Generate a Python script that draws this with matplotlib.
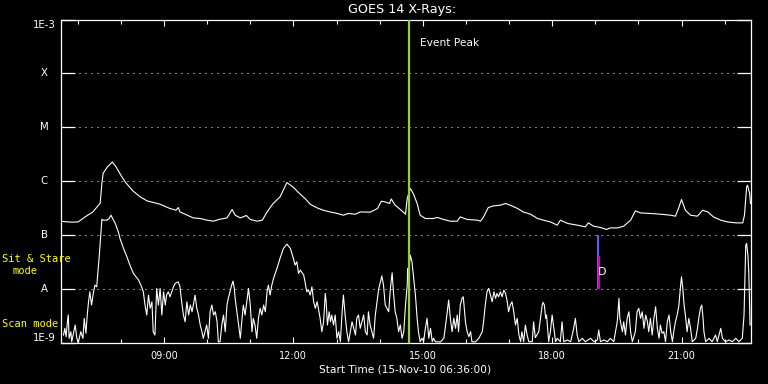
import numpy as np
import matplotlib
matplotlib.use("Agg")
import matplotlib.pyplot as plt
from matplotlib.ticker import FixedLocator, NullLocator
from matplotlib.transforms import blended_transform_factory

# ---------------- data (hour of day, log10 flux W/m^2) ----------------
long_hours = [6.61,6.70,6.87,7.01,7.17,7.35,7.52,7.56,7.59,7.68,
              7.80,7.89,8.00,8.10,8.28,8.45,8.61,8.91,9.14,9.28,
              9.33,9.37,9.54,9.68,9.84,10.00,10.14,10.30,10.46,10.58,
              10.65,10.77,10.91,11.00,11.16,11.28,11.39,11.53,11.69,11.85,
              11.99,12.16,12.27,12.39,12.55,12.69,12.85,13.02,13.16,13.27,
              13.44,13.55,13.78,13.95,14.04,14.13,14.23,14.27,14.36,14.48,
              14.60,14.64,14.71,14.78,14.87,14.94,15.06,15.24,15.34,15.48,
              15.64,15.80,15.87,16.03,16.27,16.34,16.41,16.52,16.64,16.80,
              16.92,17.03,17.20,17.33,17.50,17.66,17.80,17.96,18.12,18.19,
              18.36,18.59,18.77,18.84,18.96,19.12,19.26,19.35,19.52,19.66,
              19.82,19.93,20.05,20.28,20.51,20.75,20.86,20.93,21.00,21.09,
              21.21,21.37,21.49,21.61,21.74,21.91,22.07,22.26,22.42,22.46,
              22.51,22.53,22.58,22.60]
long_logflux = [-6.741,-6.750,-6.759,-6.754,-6.661,-6.569,-6.407,-6.037,-5.852,-5.741,
                -5.643,-5.735,-5.889,-6.013,-6.180,-6.291,-6.365,-6.426,-6.506,-6.537,
                -6.487,-6.569,-6.630,-6.680,-6.691,-6.722,-6.741,-6.704,-6.680,-6.524,
                -6.630,-6.680,-6.635,-6.709,-6.741,-6.722,-6.569,-6.413,-6.291,-6.024,
                -6.106,-6.241,-6.320,-6.426,-6.494,-6.537,-6.569,-6.598,-6.630,-6.598,
                -6.611,-6.569,-6.574,-6.506,-6.370,-6.383,-6.413,-6.328,-6.444,-6.524,
                -6.611,-6.320,-6.135,-6.228,-6.413,-6.630,-6.691,-6.691,-6.672,-6.709,
                -6.741,-6.741,-6.661,-6.709,-6.722,-6.741,-6.661,-6.487,-6.457,-6.444,
                -6.413,-6.444,-6.506,-6.569,-6.611,-6.691,-6.722,-6.754,-6.815,-6.722,
                -6.783,-6.815,-6.846,-6.772,-6.833,-6.857,-6.894,-6.865,-6.865,-6.833,
                -6.722,-6.550,-6.587,-6.598,-6.611,-6.630,-6.648,-6.506,-6.339,-6.537,
                -6.630,-6.648,-6.537,-6.569,-6.661,-6.722,-6.754,-6.772,-6.772,-6.630,
                -6.106,-6.074,-6.228,-6.413]

short_hours = [6.67,6.70,6.73,6.76,6.78,6.80,6.84,6.86,6.94,6.98,
               7.01,7.07,7.12,7.15,7.19,7.22,7.25,7.28,7.32,7.36,
               7.40,7.44,7.50,7.56,7.59,7.67,7.73,7.77,7.81,7.87,
               7.94,7.98,8.06,8.14,8.21,8.29,8.41,8.48,8.52,8.56,
               8.60,8.64,8.68,8.72,8.75,8.79,8.83,8.87,8.91,8.95,
               8.99,9.03,9.06,9.10,9.14,9.22,9.26,9.33,9.37,9.41,
               9.45,9.49,9.53,9.57,9.61,9.65,9.68,9.72,9.76,9.80,
               9.84,9.88,9.91,9.99,10.03,10.07,10.11,10.15,10.19,10.23,
               10.26,10.30,10.34,10.38,10.42,10.46,10.49,10.53,10.57,10.60,
               10.63,10.65,10.69,10.73,10.77,10.81,10.84,10.88,10.92,10.96,
               11.00,11.04,11.07,11.11,11.15,11.19,11.23,11.27,11.31,11.35,
               11.39,11.42,11.46,11.50,11.54,11.62,11.69,11.77,11.85,11.93,
               12.00,12.04,12.08,12.12,12.16,12.24,12.27,12.31,12.35,12.39,
               12.43,12.47,12.51,12.55,12.58,12.62,12.66,12.70,12.74,12.76,
               12.79,12.83,12.86,12.89,12.93,12.97,13.01,13.05,13.09,13.13,
               13.16,13.20,13.24,13.28,13.32,13.36,13.40,13.44,13.47,13.51,
               13.55,13.59,13.63,13.67,13.71,13.74,13.78,13.82,13.86,13.90,
               13.94,13.98,14.02,14.05,14.09,14.13,14.17,14.21,14.25,14.29,
               14.32,14.36,14.40,14.44,14.48,14.52,14.56,14.60,14.64,14.65,
               14.67,14.71,14.75,14.79,14.83,14.87,14.90,14.94,14.98,15.02,
               15.06,15.10,15.14,15.18,15.22,15.25,15.29,15.41,15.49,15.56,
               15.60,15.64,15.68,15.72,15.76,15.80,15.83,15.87,15.91,15.94,
               15.97,15.99,16.03,16.07,16.11,16.14,16.22,16.30,16.38,16.41,
               16.45,16.49,16.53,16.57,16.61,16.65,16.69,16.72,16.76,16.80,
               16.84,16.88,16.92,16.96,16.99,17.03,17.07,17.11,17.15,17.19,
               17.23,17.27,17.30,17.34,17.38,17.42,17.46,17.54,17.57,17.61,
               17.69,17.73,17.77,17.79,17.82,17.85,17.87,17.90,17.92,17.96,
               18.00,18.04,18.08,18.12,18.19,18.23,18.27,18.35,18.43,18.50,
               18.54,18.58,18.62,18.70,18.77,18.89,18.97,19.05,19.08,19.12,
               19.20,19.28,19.35,19.43,19.51,19.55,19.57,19.63,19.66,19.70,
               19.74,19.78,19.82,19.86,19.93,19.97,20.01,20.05,20.09,20.13,
               20.17,20.21,20.24,20.28,20.32,20.36,20.40,20.44,20.48,20.51,
               20.55,20.59,20.63,20.67,20.71,20.75,20.79,20.82,20.86,20.90,
               20.94,20.98,21.00,21.03,21.06,21.09,21.13,21.17,21.21,21.25,
               21.33,21.37,21.40,21.44,21.47,21.50,21.52,21.56,21.64,21.71,
               21.79,21.83,21.91,21.95,22.02,22.10,22.18,22.26,22.33,22.41,
               22.45,22.49,22.51,22.54,22.56,22.59]
short_logflux = [-8.852,-8.728,-8.883,-8.606,-8.481,-8.913,-8.791,-8.976,-8.667,-8.913,
                 -9.0,-8.791,-8.913,-8.543,-8.820,-8.481,-8.235,-8.050,-8.296,-8.080,
                 -7.926,-7.957,-7.370,-6.704,-6.722,-6.722,-6.691,-6.630,-6.691,-6.783,
                 -6.939,-7.061,-7.246,-7.402,-7.556,-7.709,-7.833,-7.957,-8.050,-8.296,
                 -8.481,-8.111,-8.357,-8.235,-8.791,-8.852,-7.987,-8.296,-7.987,-8.481,
                 -8.050,-8.296,-8.111,-8.050,-8.143,-7.957,-7.894,-7.865,-7.957,-8.235,
                 -8.481,-8.606,-8.235,-8.481,-8.296,-8.420,-8.296,-8.111,-8.357,-8.481,
                 -8.667,-8.791,-8.913,-8.667,-8.913,-8.420,-8.296,-8.481,-8.420,-8.606,
                 -8.976,-8.976,-8.667,-8.481,-8.791,-8.296,-8.172,-8.050,-7.926,-7.852,
                 -7.987,-8.172,-8.420,-8.667,-8.913,-8.543,-8.296,-8.481,-8.235,-7.987,
                 -8.296,-8.791,-8.543,-8.667,-8.913,-8.543,-8.357,-8.481,-8.296,-8.420,
                 -8.050,-7.926,-8.111,-7.926,-7.802,-7.617,-7.431,-7.246,-7.167,-7.246,
                 -7.431,-7.556,-7.494,-7.709,-7.648,-7.741,-7.865,-8.050,-8.019,-8.111,
                 -7.957,-8.235,-8.357,-8.235,-8.357,-8.543,-8.791,-8.606,-8.080,-8.235,
                 -8.667,-8.420,-8.606,-8.481,-8.667,-8.481,-8.913,-8.791,-8.976,-8.420,
                 -8.111,-8.481,-8.791,-8.976,-8.791,-8.606,-8.728,-8.852,-8.543,-8.481,
                 -8.728,-8.606,-8.481,-8.791,-8.852,-8.420,-8.667,-8.791,-8.913,-8.481,
                 -8.235,-7.987,-7.865,-7.754,-7.926,-8.296,-8.357,-8.420,-7.987,-7.698,
                 -8.050,-8.420,-8.543,-8.791,-8.667,-8.913,-8.791,-8.296,-7.926,-7.617,
                 -7.741,-7.370,-7.494,-7.802,-8.111,-8.543,-8.791,-8.976,-8.913,-8.976,
                 -8.728,-8.543,-8.913,-8.728,-8.976,-8.913,-8.976,-8.980,-8.913,-8.481,
                 -8.204,-8.543,-8.791,-8.543,-8.728,-8.481,-8.791,-8.296,-8.172,-8.143,
                 -8.420,-8.606,-8.791,-8.883,-8.791,-8.976,-8.980,-8.913,-8.791,-8.606,
                 -8.296,-8.050,-7.987,-8.111,-8.235,-8.050,-8.172,-8.080,-8.143,-8.050,
                 -8.143,-8.019,-8.080,-8.235,-8.420,-8.296,-8.235,-8.420,-8.667,-8.543,
                 -8.852,-8.976,-8.791,-8.976,-8.667,-8.852,-8.976,-8.976,-8.606,-8.900,
                 -8.791,-8.543,-8.296,-8.246,-8.296,-8.543,-8.481,-8.791,-8.976,-8.791,
                 -8.481,-8.728,-8.976,-8.913,-8.976,-8.606,-8.976,-8.944,-8.976,-8.728,
                 -8.543,-8.852,-8.976,-8.913,-8.976,-8.913,-8.976,-8.944,-8.759,-8.976,
                 -8.944,-8.976,-8.913,-8.976,-8.606,-8.172,-8.543,-8.791,-8.606,-8.852,
                 -8.543,-8.420,-8.791,-8.976,-8.791,-8.420,-8.357,-8.543,-8.420,-8.728,
                 -8.481,-8.606,-8.791,-8.543,-8.852,-8.543,-8.328,-8.728,-8.913,-8.667,
                 -8.820,-8.791,-8.976,-8.606,-8.481,-8.791,-8.976,-8.791,-8.606,-8.481,
                 -8.296,-7.926,-7.772,-7.987,-8.296,-8.481,-8.791,-8.543,-8.728,-8.976,
                 -8.913,-8.728,-8.543,-8.357,-8.296,-8.543,-8.791,-8.976,-8.913,-8.976,
                 -8.852,-8.976,-8.728,-8.913,-8.976,-8.944,-8.976,-8.913,-8.976,-8.913,
                 -8.481,-7.185,-7.154,-7.370,-7.680,-8.667]

y_tick_values = [1e-9, 1e-8, 1e-7, 1e-6, 1e-5, 1e-4, 1e-3]
y_tick_labels = ["1E-9", "A", "B", "C", "M", "X", "1E-3"]
x_major_hours = [9, 12, 15, 18, 21]
x_major_labels = ["09:00", "12:00", "15:00", "18:00", "21:00"]
x_minor_hours = list(range(7, 23))
x_range = (6.6, 22.6)

event_peak_hour = 14.69
mode_switch_hour = 19.08
mode_switch_split = 10 ** -7.383
mode_mark_text_hour = 19.17
mode_mark_text_flux = 10 ** -7.685

# ---------------- figure ----------------
W, H = 768, 384
fig = plt.figure(figsize=(W / 100, H / 100), dpi=100, facecolor="black")
ax = fig.add_axes([60.5 / W, 41 / H, 690 / W, 323.5 / H], facecolor="black")

ax.set_yscale("log")
ax.set_ylim(1e-9, 1e-3)
ax.set_xlim(*x_range)

# grid (dotted) at class levels
for v in y_tick_values[1:-1]:
    ax.axhline(v, color="white", lw=0.72, ls=(0, (1, 5)), zorder=1)

ax.plot(long_hours, 10 ** np.array(long_logflux), color="white", lw=0.8, zorder=3)
ax.plot(short_hours, 10 ** np.array(short_logflux), color="white", lw=0.8, zorder=3)

# event peak line
ax.axvline(event_peak_hour, color="#9acd32", lw=1.6, zorder=4)
ax.annotate("Event Peak", xy=(event_peak_hour, 0.927),
            xycoords=("data", "axes fraction"), xytext=(7.5, 0),
            textcoords="offset points", color="white", fontsize=7.7,
            ha="left", va="center")

# mode switch marker
ax.vlines(mode_switch_hour - 0.012, 1e-8, 1e-7, color="#5b5bff", lw=1.5, zorder=4)
ax.vlines(mode_switch_hour + 0.012, 1e-8, mode_switch_split, color="#d000d0", lw=1.5, zorder=5)
ax.text(mode_mark_text_hour, mode_mark_text_flux, "D", color="white", fontsize=8,
        ha="center", va="center", zorder=6)

# spines
for s in ax.spines.values():
    s.set_color("white")
    s.set_linewidth(0.9)

# x ticks
ax.xaxis.set_major_locator(FixedLocator(x_major_hours))
ax.xaxis.set_minor_locator(FixedLocator(x_minor_hours))
ax.set_xticklabels(x_major_labels)
ax.tick_params(axis="x", which="both", direction="in", top=True, bottom=True,
               colors="white", width=0.8, labelsize=7, pad=6)
ax.tick_params(axis="x", which="major", length=4.5)
ax.tick_params(axis="x", which="minor", length=2.6)

# y ticks
ax.yaxis.set_major_locator(FixedLocator(y_tick_values))
ax.yaxis.set_minor_locator(NullLocator())
ax.tick_params(axis="y", which="major", direction="in", left=True, right=True,
               length=10, width=0.9, colors="white", labelleft=False)
trans = blended_transform_factory(ax.transAxes, ax.transData)
for v, lab in zip(y_tick_values, y_tick_labels):
    va = "center"
    if lab == "1E-3":
        va = "top"
    elif lab == "1E-9":
        va = "bottom"
    ax.text(-16.5 / 690, v, lab, transform=trans, color="white", fontsize=7.3,
            ha="center", va=va)

# titles / labels
fig.text(402 / W, 1 - 9.5 / H, "GOES 14 X-Rays:", color="white", fontsize=9.2,
         ha="center", va="center")
fig.text(405 / W, 1 - 369 / H, "Start Time (15-Nov-10 06:36:00)", color="white",
         fontsize=7.6, ha="center", va="center")

# yellow mode labels
mono = "DejaVu Sans Mono"
fig.text(1.7 / W, 1 - 259 / H, "Sit & Stare", color="yellow", fontsize=7.5,
         family=mono, ha="left", va="center")
fig.text(12.7 / W, 1 - 271 / H, "mode", color="yellow", fontsize=7.5,
         family=mono, ha="left", va="center")
fig.text(1.7 / W, 1 - 324 / H, "Scan mode", color="yellow", fontsize=7.5,
         family=mono, ha="left", va="center")

fig.savefig("out.png", dpi=100, facecolor="black")
